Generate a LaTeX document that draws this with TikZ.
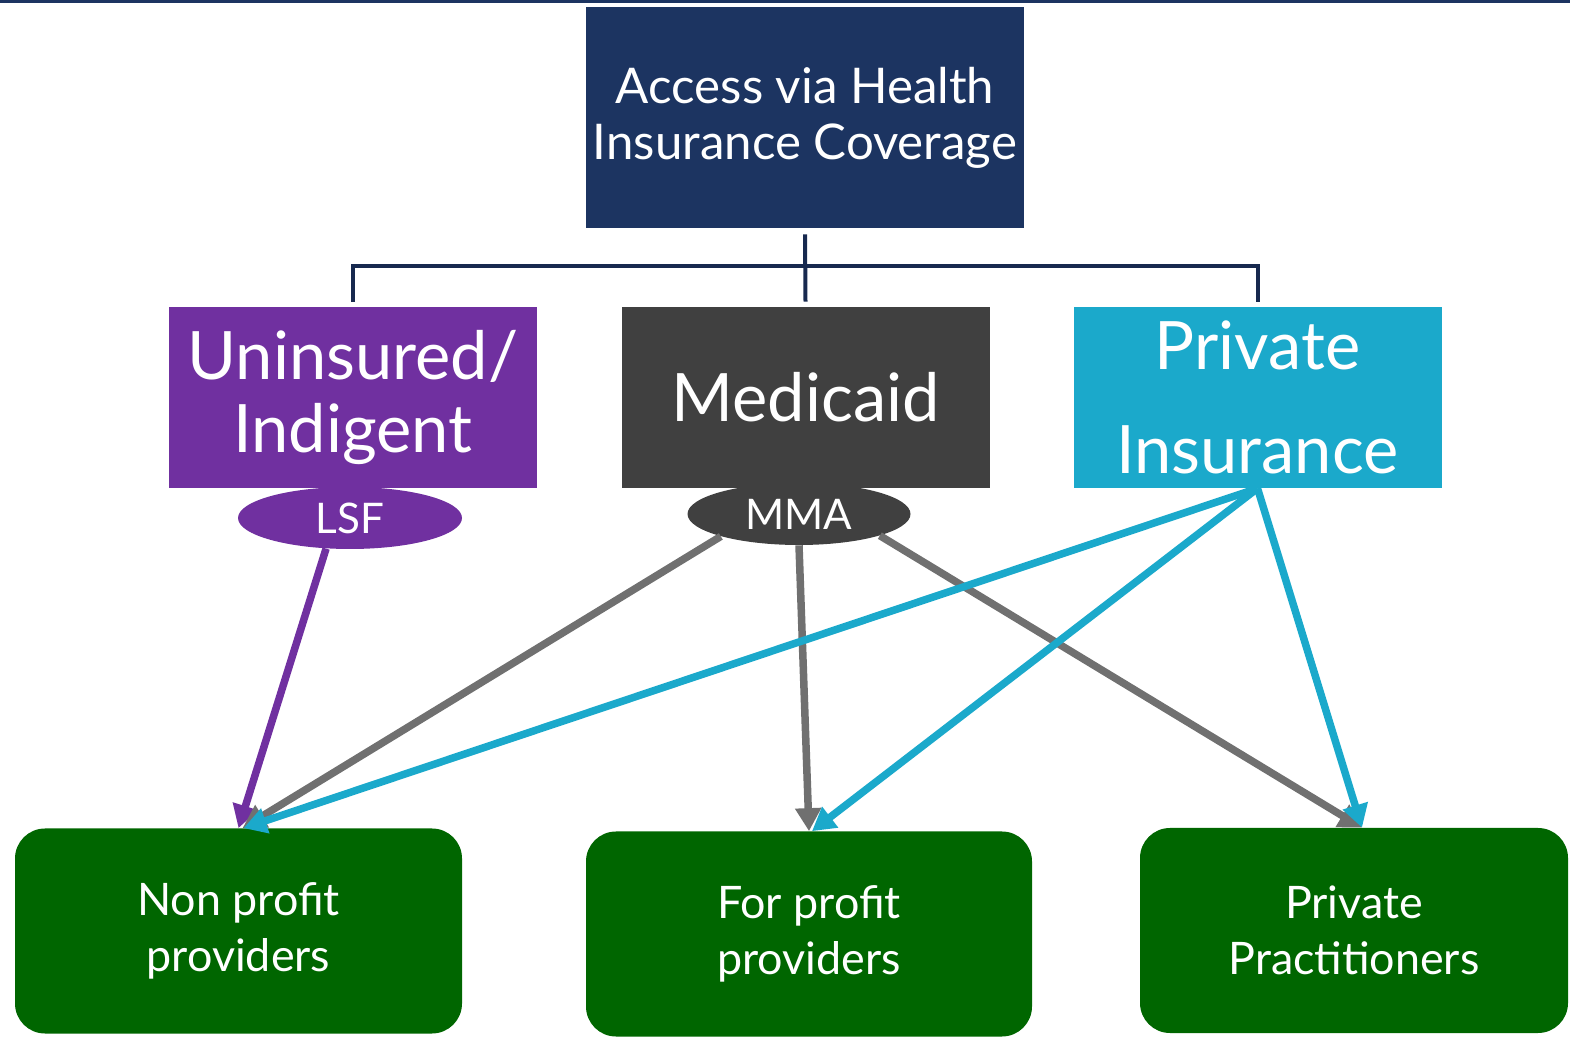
\documentclass[tikz,border=0pt]{standalone}
\usepackage{fontspec}
\setmainfont{Lato}
\usepackage{tikz}
\usetikzlibrary{arrows.meta,shapes.geometric}

\definecolor{navy}{HTML}{1C3461}
\definecolor{navyline}{HTML}{17294F}
\definecolor{purp}{HTML}{7030A0}
\definecolor{darkgrey}{HTML}{404040}
\definecolor{arrowgrey}{HTML}{707070}
\definecolor{cyanblue}{HTML}{1BA9CB}
\definecolor{provgreen}{HTML}{006600}

\begin{document}
\begin{tikzpicture}[align=center, text=white,
		payer/.style={rectangle, minimum width=7.36cm, minimum height=3.62cm, inner sep=0pt, font=\fontsize{38}{42}\selectfont},
		agency/.style={ellipse, minimum width=4.48cm, minimum height=1.24cm, inner sep=0pt, font=\fontsize{24}{28}\selectfont},
		provider/.style={rectangle, rounded corners=0.6cm, fill=provgreen, minimum height=4.1cm, inner sep=0pt, font=\fontsize{25.5}{32}\selectfont},
		flow/.style={line width=0.15cm, -{Triangle[length=0.46cm, width=0.5cm]}},
		tree/.style={draw=navyline, line width=0.08cm}]
		\useasboundingbox (0,0) rectangle (31.4,20.72);
		\fill[navy] (0,20.66) rectangle (31.4,20.72);
		
		\node (access) at (16.1, 18.37) [rectangle, fill=navy, minimum width=8.76cm, minimum height=4.42cm, inner sep=0pt, font=\fontsize{28}{32}\selectfont] {Access via Health\\Insurance Coverage};
		
		\node (uninsured) at (7.06, 12.77) [payer, fill=purp] {Uninsured/\\Indigent};
		\node (medicaid) at (16.11, 12.77) [payer, fill=darkgrey] {Medicaid};
		\node (private) at (25.15, 12.77) [payer, fill=cyanblue] {Private\\[0.6cm]Insurance};
		\node (lsf) at (7.0, 10.36) [agency, fill=purp] {LSF};
		\node (mma) at (15.98, 10.44) [agency, fill=darkgrey, minimum width=4.46cm] {MMA};
		
		\node (nonprofit) at (4.77, 2.1) [provider, minimum width=8.94cm] {Non profit\\providers};
		\node (forprofit) at (16.18, 2.04) [provider, minimum width=8.92cm] {For profit\\providers};
		\node (practitioners) at (27.08, 2.11) [provider, minimum width=8.56cm] {Private\\Practitioners};
		
		% coverage tree
		\draw[tree] ([yshift=-0.12cm]access.south) -- ([yshift=0.1cm]medicaid.north);
		\draw[tree] ([yshift=0.1cm]uninsured.north) -- ++(0,0.72) -| ([yshift=0.1cm]private.north);
		
		% who pays whom
		\draw[flow, purp] (lsf.232) -- (nonprofit.north);
		\draw[flow, arrowgrey] (mma.196) -- ([xshift=0.08cm]nonprofit.north);
		\draw[flow, arrowgrey] (mma.south) -- (forprofit.north);
		\draw[flow, arrowgrey] (mma.345) -- ([xshift=0.16cm]practitioners.north);
		\draw[flow, cyanblue] (private.south) -- ([xshift=0.1cm]nonprofit.north);
		\draw[flow, cyanblue] (private.south) -- ([xshift=0.06cm]forprofit.north);
		\draw[flow, cyanblue] (private.south) -- ([xshift=0.16cm]practitioners.north);
		
	\end{tikzpicture}
\end{document}
